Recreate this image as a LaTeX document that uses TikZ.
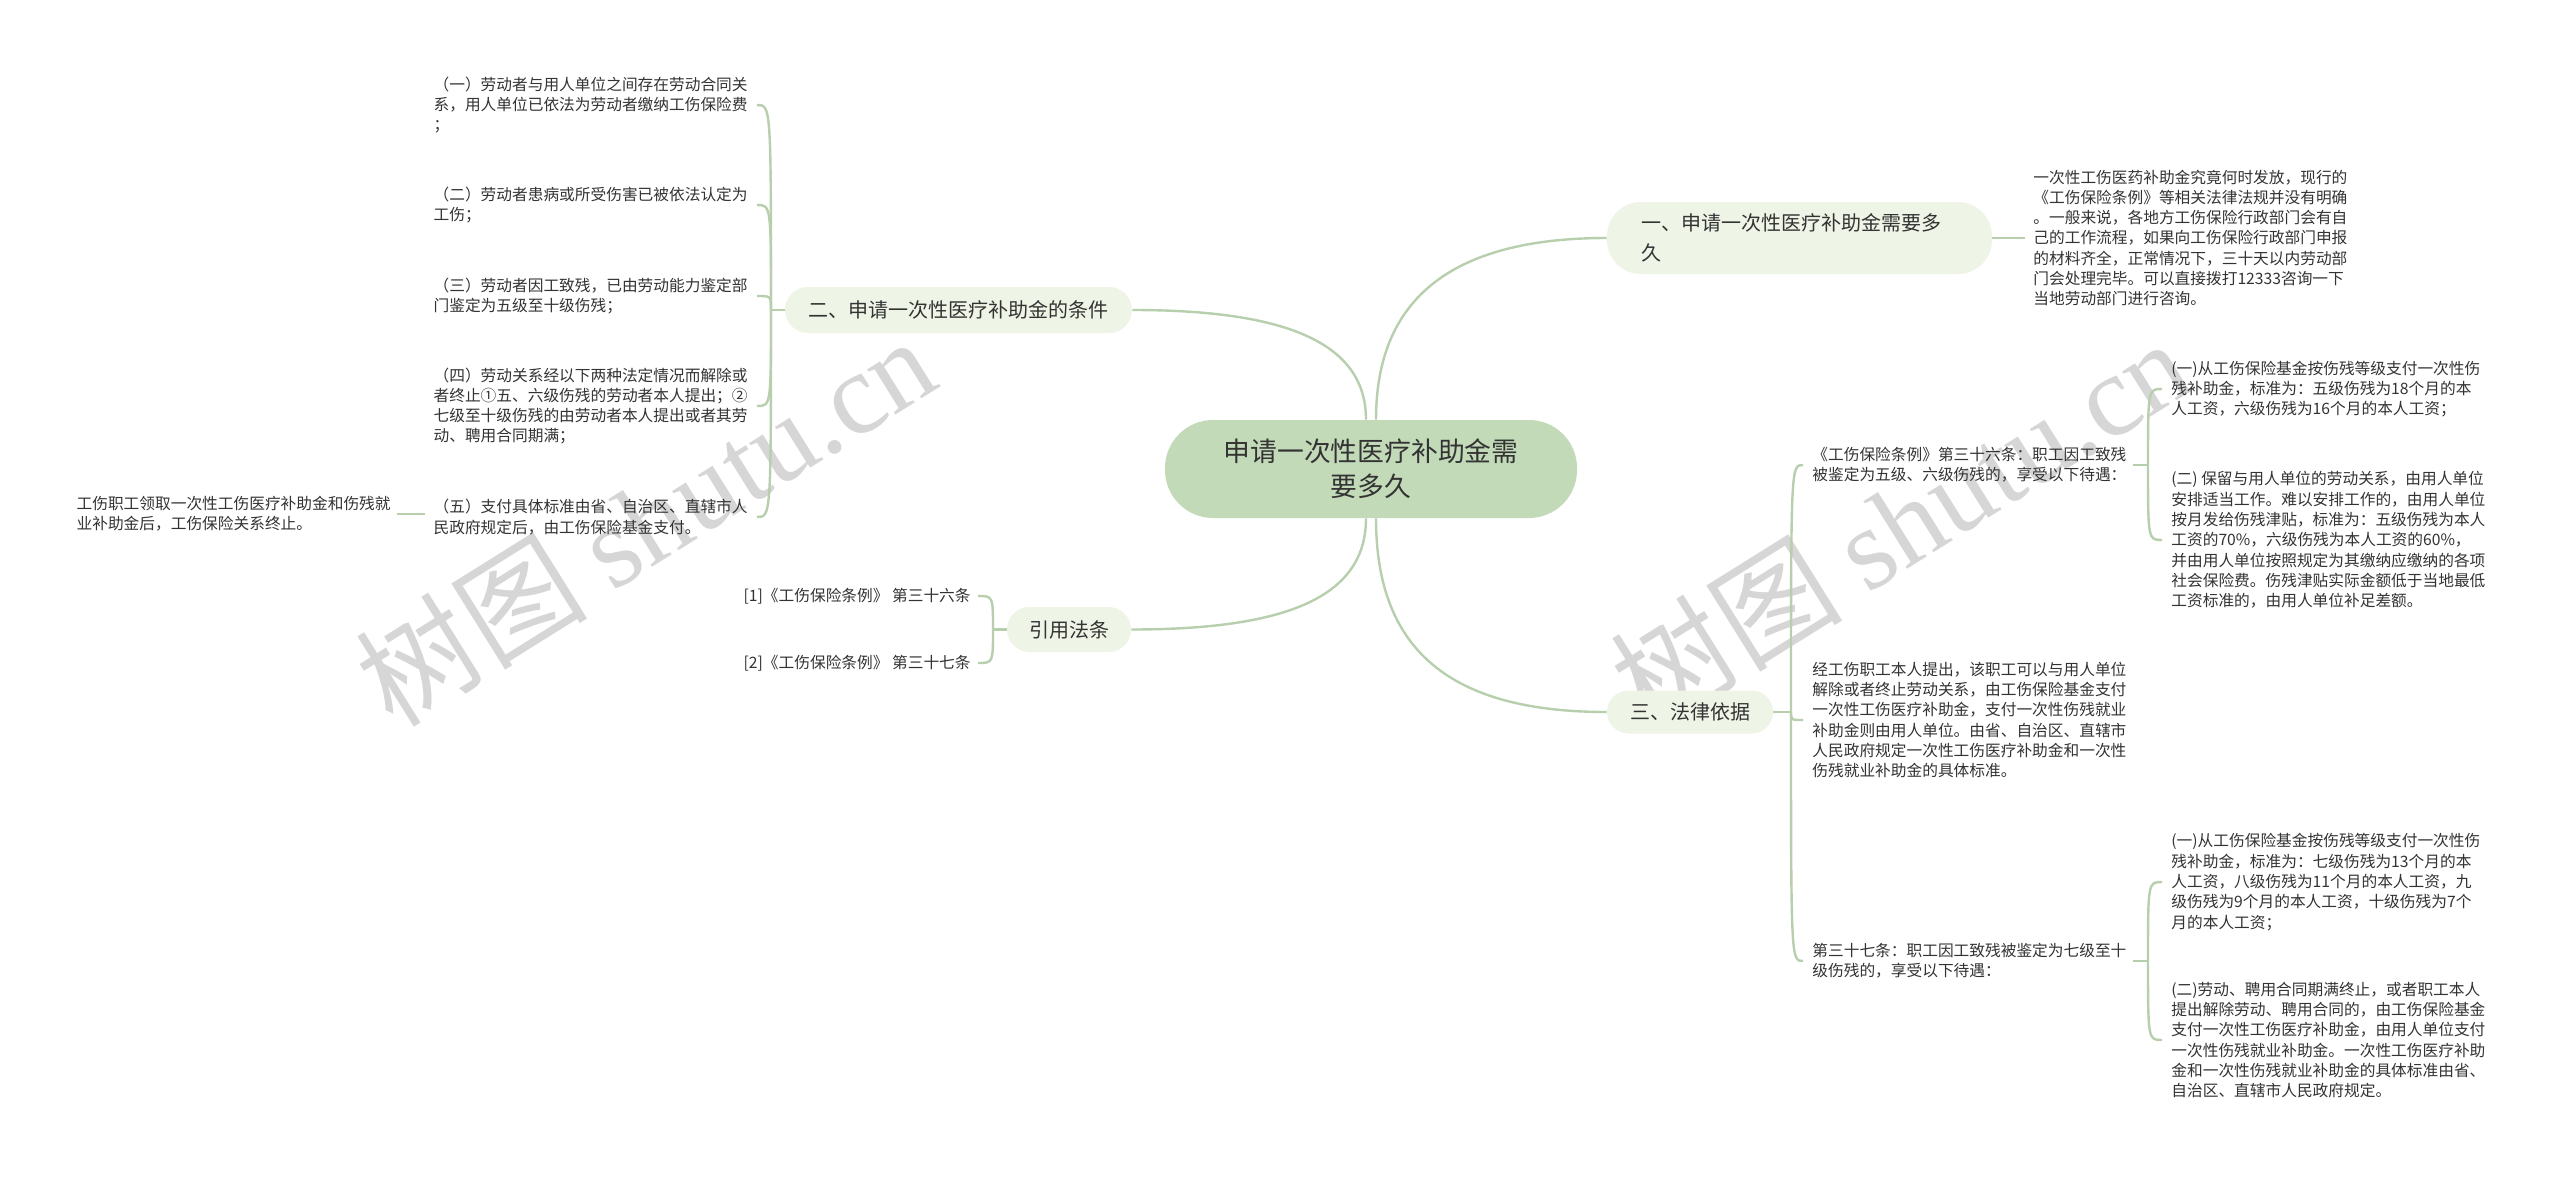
\documentclass[tikz,border=0pt]{standalone}
\usepackage{fontspec}
\setmainfont{Noto Sans CJK SC}
\newfontfamily\wmlatin{Liberation Serif}
\definecolor{lnc}{HTML}{B8CFAE}
\definecolor{rootc}{HTML}{C3DAB9}
\definecolor{l1c}{HTML}{EEF4E6}
\definecolor{txtc}{HTML}{333333}
\definecolor{wmc}{HTML}{D6D6D6}
\begin{document}
\begin{tikzpicture}[x=0.5pt,y=-0.5pt,
  conn/.style={draw=lnc, line width=1.2pt},
  leaf/.style={inner sep=0pt, align=left, text=txtc, font=\fontsize{7.85pt}{10.15pt}\selectfont},
  lone/.style={fill=l1c, inner sep=0pt, text=txtc, font=\fontsize{10pt}{15pt}\selectfont},
  rootbox/.style={fill=rootc, inner sep=0pt, text=txtc, align=center, rounded corners=24pt,
     minimum width=206pt, minimum height=49pt, font=\fontsize{13.4pt}{17.5pt}\selectfont},
  wm/.style={text=wmc, rotate=32, inner sep=0pt, font=\fontsize{58pt}{58pt}\selectfont}
]
\useasboundingbox (0,0) rectangle (2560,1177);
\fill[white] (0,0) rectangle (2560,1177);

% watermarks
\node[wm] (wm1) at (645,520) {树图 {\wmlatin shutu.cn}};
\node[wm] (wm2) at (1900,522) {树图 {\wmlatin shutu.cn}};

% root and main branches
\node[rootbox] (root) at (1371,469) {申请一次性医疗补助金需\\要多久};
\node[lone, minimum width=192.5pt, minimum height=36pt, rounded corners=17pt, text width=158pt, align=left] (n1) at (1799.5,238) {一、申请一次性医疗补助金需要多\\久};
\node[lone, minimum width=173.5pt, minimum height=23pt, rounded corners=11.5pt] (n2) at (958.5,310) {二、申请一次性医疗补助金的条件};
\node[lone, minimum width=62pt, minimum height=22.5pt, rounded corners=11.2pt] (n3) at (1069,629.5) {引用法条};
\node[lone, minimum width=83pt, minimum height=21.5pt, rounded corners=10.7pt] (n4) at (1690,712) {三、法律依据};

\draw[conn] ([xshift=-2.5pt]root.north) .. controls (1366,340) and (1280,310) .. (n2.east);
\draw[conn] ([xshift=2.5pt]root.north) .. controls (1376,300) and (1450,238) .. (n1.west);
\draw[conn] ([xshift=-2.5pt]root.south) .. controls (1366,600) and (1280,629.5) .. (n3.east);
\draw[conn] ([xshift=2.5pt]root.south) .. controls (1376,650) and (1450,712) .. (n4.west);

% branch 1
\node[leaf, anchor=west] (t1) at (2033,238) {一次性工伤医药补助金究竟何时发放，现行的\\《工伤保险条例》等相关法律法规并没有明确\\。一般来说，各地方工伤保险行政部门会有自\\己的工作流程，如果向工伤保险行政部门申报\\的材料齐全，正常情况下，三十天以内劳动部\\门会处理完毕。可以直接拨打12333咨询一下\\当地劳动部门进行咨询。};
\draw[conn] (n1.east) -- ([xshift=-4pt]t1.west);

% branch 2
\node[leaf, anchor=east] (a21) at (748,105) {（一）劳动者与用人单位之间存在劳动合同关\\系，用人单位已依法为劳动者缴纳工伤保险费\\；};
\node[leaf, anchor=east] (a22) at (748,205) {（二）劳动者患病或所受伤害已被依法认定为\\工伤；};
\node[leaf, anchor=east] (a23) at (748,296) {（三）劳动者因工致残，已由劳动能力鉴定部\\门鉴定为五级至十级伤残；};
\node[leaf, anchor=east] (a24) at (748,406) {（四）劳动关系经以下两种法定情况而解除或\\者终止①五、六级伤残的劳动者本人提出；②\\七级至十级伤残的由劳动者本人提出或者其劳\\动、聘用合同期满；};
\node[leaf, anchor=east] (a25) at (748,517) {（五）支付具体标准由省、自治区、直辖市人\\民政府规定后，由工伤保险基金支付。};
\node[leaf, anchor=east] (a26) at (391,514) {工伤职工领取一次性工伤医疗补助金和伤残就\\业补助金后，工伤保险关系终止。};
\coordinate (j2) at (771,310);
\draw[conn] (n2.west) -- (j2);
\foreach \c in {a21,a22,a23,a24,a25}
  \draw[conn] (j2) .. controls (j2 |- \c.east) and (j2 |- \c.east) .. ([xshift=4.5pt]\c.east);
\draw[conn] ([xshift=-4pt]a25.west |- a26.east) -- ([xshift=3pt]a26.east);

% branch 3 (citations)
\node[leaf, anchor=east] (r1) at (971,596) {[1]《工伤保险条例》 第三十六条};
\node[leaf, anchor=east] (r2) at (971,663) {[2]《工伤保险条例》 第三十七条};
\coordinate (j3) at (993,629.5);
\draw[conn] (n3.west) -- (j3);
\foreach \c in {r1,r2}
  \draw[conn] (j3) .. controls (j3 |- \c.east) and (j3 |- \c.east) .. ([xshift=3.5pt]\c.east);

% branch 4
\node[leaf, anchor=west] (b1) at (1812,465) {《工伤保险条例》第三十六条：职工因工致残\\被鉴定为五级、六级伤残的，享受以下待遇：};
\node[leaf, anchor=west] (b2) at (1812,720) {经工伤职工本人提出，该职工可以与用人单位\\解除或者终止劳动关系，由工伤保险基金支付\\一次性工伤医疗补助金，支付一次性伤残就业\\补助金则由用人单位。由省、自治区、直辖市\\人民政府规定一次性工伤医疗补助金和一次性\\伤残就业补助金的具体标准。};
\node[leaf, anchor=west] (b3) at (1812,961) {第三十七条：职工因工致残被鉴定为七级至十\\级伤残的，享受以下待遇：};
\coordinate (j4) at (1791,712);
\draw[conn] (n4.east) -- (j4);
\foreach \c in {b1,b2,b3}
  \draw[conn] (j4) .. controls (j4 |- \c.west) and (j4 |- \c.west) .. ([xshift=-4.5pt]\c.west);

\node[leaf, anchor=west] (b11) at (2171,389) {(一)从工伤保险基金按伤残等级支付一次性伤\\残补助金，标准为：五级伤残为18个月的本\\人工资，六级伤残为16个月的本人工资；};
\node[leaf, anchor=west] (b12) at (2171,540) {(二) 保留与用人单位的劳动关系，由用人单位\\安排适当工作。难以安排工作的，由用人单位\\按月发给伤残津贴，标准为：五级伤残为本人\\工资的70\%，六级伤残为本人工资的60\%，\\并由用人单位按照规定为其缴纳应缴纳的各项\\社会保险费。伤残津贴实际金额低于当地最低\\工资标准的，由用人单位补足差额。};
\coordinate (jb1) at (2148,465);
\draw[conn] ([xshift=3pt]b1.east) -- (jb1);
\foreach \c in {b11,b12}
  \draw[conn] (jb1) .. controls (jb1 |- \c.west) and (jb1 |- \c.west) .. ([xshift=-4.5pt]\c.west);

\node[leaf, anchor=west] (b31) at (2171,882) {(一)从工伤保险基金按伤残等级支付一次性伤\\残补助金，标准为：七级伤残为13个月的本\\人工资，八级伤残为11个月的本人工资，九\\级伤残为9个月的本人工资，十级伤残为7个\\月的本人工资；};
\node[leaf, anchor=west] (b32) at (2171,1040) {(二)劳动、聘用合同期满终止，或者职工本人\\提出解除劳动、聘用合同的，由工伤保险基金\\支付一次性工伤医疗补助金，由用人单位支付\\一次性伤残就业补助金。一次性工伤医疗补助\\金和一次性伤残就业补助金的具体标准由省、\\自治区、直辖市人民政府规定。};
\coordinate (jb3) at (2148,961);
\draw[conn] ([xshift=3pt]b3.east) -- (jb3);
\foreach \c in {b31,b32}
  \draw[conn] (jb3) .. controls (jb3 |- \c.west) and (jb3 |- \c.west) .. ([xshift=-4.5pt]\c.west);
\end{tikzpicture}
\end{document}
